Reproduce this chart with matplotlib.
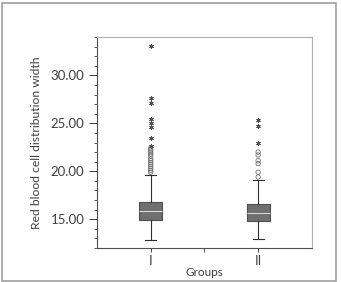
import matplotlib
matplotlib.use("Agg")
import matplotlib.pyplot as plt
from matplotlib.patches import Rectangle
from matplotlib.ticker import MultipleLocator, FixedLocator

plt.rcParams['font.family'] = ['Lato', 'DejaVu Sans']

groups = ["I", "II"]
q1 = [14.9, 14.8]
medians = [15.9, 15.6]
q3 = [16.8, 16.6]
whislo = [12.8, 12.95]
whishi = [19.65, 19.1]
circles_I = [19.9, 20.1, 20.3, 20.5, 20.7, 20.9, 21.1, 21.3, 21.6, 21.8, 22.0, 22.2, 22.4]
circles_II = [19.4, 19.9, 20.8, 21.1, 21.7, 22.0]
stars_I = [22.65, 23.5, 24.6, 25.0, 25.5, 27.1, 27.6, 33.1]
stars_II = [23.0, 24.7, 25.3]
yticks = [15.0, 20.0, 25.0, 30.0]

fig = plt.figure(figsize=(3.41, 2.82), dpi=100)
fig.patches.append(Rectangle((0.006, 0.004), 0.98, 0.986, transform=fig.transFigure,
                             fill=False, edgecolor='#a0a0a0', linewidth=1.2))
ax = fig.add_axes([0.2845, 0.1206, 0.630, 0.748])

positions = [1, 2]
stats = []
for i, g in enumerate(groups):
    stats.append(dict(label=g, q1=q1[i], med=medians[i], q3=q3[i],
                      whislo=whislo[i], whishi=whishi[i], fliers=[]))
ax.bxp(stats, positions=positions, widths=0.215, patch_artist=True, showfliers=False,
       boxprops=dict(facecolor='#6f6f6f', edgecolor='#505050', linewidth=0.8),
       medianprops=dict(color='#d8d8d8', linewidth=0.8),
       whiskerprops=dict(color='#303030', linewidth=0.8),
       capprops=dict(color='#303030', linewidth=0.8), capwidths=0.1)

for pos, c in zip(positions, [circles_I, circles_II]):
    ax.scatter([pos] * len(c), c, s=10, facecolors='none', edgecolors='#707070',
               linewidths=0.6, zorder=3)
for pos, s in zip(positions, [stars_I, stars_II]):
    ax.scatter([pos] * len(s), s, s=8, marker=(6, 2, 0), color='#505050',
               linewidths=0.6, zorder=3)

ax.set_xlim(0.5, 2.5)
ax.set_ylim(12.0, 34.0)
ax.set_xticks(positions)
ax.set_xticklabels(groups)
ax.xaxis.set_minor_locator(FixedLocator([1.5]))
ax.set_yticks(yticks)
ax.set_yticklabels([f"{v:.2f}" for v in yticks])
ax.yaxis.set_minor_locator(MultipleLocator(1.0))

for sp in ax.spines.values():
    sp.set_color('#b0b0b0')
    sp.set_linewidth(0.8)
ax.spines['left'].set_color('#505050')
ax.spines['bottom'].set_color('#505050')

ax.tick_params(axis='both', which='major', direction='out', length=6, width=0.7,
               color='#404040', labelsize=9.5, labelcolor='#404040', pad=3)
ax.tick_params(axis='both', which='minor', direction='out', length=2.5, width=0.6,
               color='#404040')
ax.tick_params(axis='x', which='major', length=3, pad=2)
ax.tick_params(axis='x', which='minor', length=3)

ax.set_ylabel("Red blood cell distribution width", fontsize=8.7, color='#404040', labelpad=6)
ax.set_xlabel("Groups", fontsize=8.5, color='#404040', labelpad=0)

fig.savefig("out.png", dpi=100)
